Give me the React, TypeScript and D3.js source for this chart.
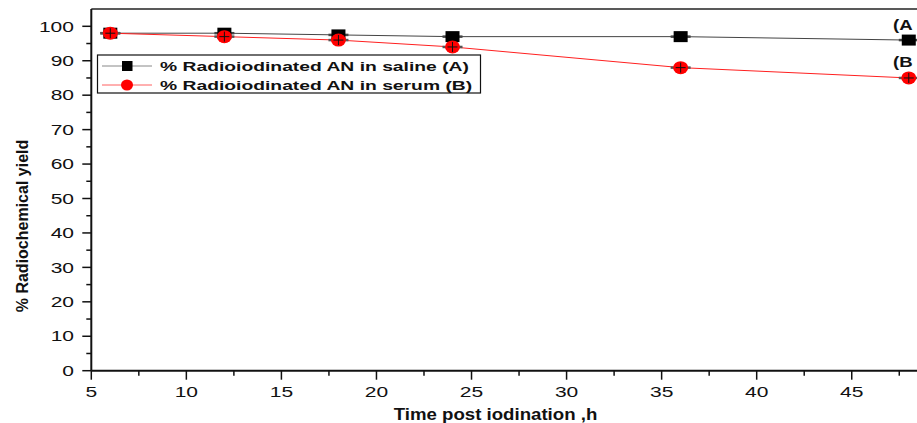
import React from "react";
import * as d3 from "d3";

const times = [6, 12, 18, 24, 36, 48];
const saline = [98, 98, 97.5, 97, 97, 96];
const serum = [98, 97, 96, 94, 88, 85];
const seriesNames = ["% Radioiodinated AN in saline (A)", "% Radioiodinated AN in serum (B)"];
const endLabels = ["(A", "(B"];
const xTicks = [5, 10, 15, 20, 25, 30, 35, 40, 45];
const yTicks = [0, 10, 20, 30, 40, 50, 60, 70, 80, 90, 100];

function SText(props: { x: number; y: number; sx: number; size: number; anchor?: string; bold?: boolean; dy?: string; children: React.ReactNode }) {
  return (
    <text
      transform={`translate(${props.x},${props.y}) scale(${props.sx},1)`}
      textAnchor={props.anchor || "start"}
      fontSize={props.size}
      fontWeight={props.bold ? "bold" : "normal"}
      dy={props.dy}
      fill="#111"
    >
      {props.children}
    </text>
  );
}

export default function App() {
  const W = 917, H = 423;
  const x = d3.scaleLinear().domain([5, 50]).range([91.3, 946.8]);
  const y = d3.scaleLinear().domain([0, 100]).range([370.7, 26.3]);
  const font = "'Liberation Sans', Arial, sans-serif";
  const line = d3.line<number>().x((_, i) => x(times[i])).y((v) => y(v));
  const xMinor = d3.range(5, 50.01, 2.5).filter((v) => !xTicks.includes(v));
  const yMinor = d3.range(5, 105, 10);
  const top = y(105);
  const tsx = 1.45;
  return (
    <svg width={W} height={H} style={{ position: "absolute", left: 0, top: 0 }} fontFamily={font}>
      <rect x={0} y={0} width={W} height={H} fill="#fff" />
      {/* frame */}
      <line x1={x(5)} x2={x(50)} y1={top} y2={top} stroke="#222" strokeWidth={1.5} />
      <line x1={x(5)} x2={x(5)} y1={top} y2={y(0)} stroke="#111" strokeWidth={2} />
      <line x1={x(5)} x2={x(50)} y1={y(0)} y2={y(0)} stroke="#111" strokeWidth={2} />
      {/* y ticks */}
      {yTicks.map((t) => (
        <g key={"y" + t}>
          <line x1={x(5) - 9} x2={x(5)} y1={y(t)} y2={y(t)} stroke="#111" strokeWidth={1.5} />
          <SText x={74} y={y(t)} sx={tsx} size={14.5} anchor="end" dy="0.36em">{t}</SText>
        </g>
      ))}
      {yMinor.map((t) => (
        <line key={"ym" + t} x1={x(5) - 5} x2={x(5)} y1={y(t)} y2={y(t)} stroke="#111" strokeWidth={1.5} />
      ))}
      {/* x ticks */}
      {xTicks.map((t) => (
        <g key={"x" + t}>
          <line x1={x(t)} x2={x(t)} y1={y(0)} y2={y(0) + 9} stroke="#111" strokeWidth={1.5} />
          <SText x={x(t)} y={397} sx={tsx} size={14.5} anchor="middle">{t}</SText>
        </g>
      ))}
      {xMinor.map((t) => (
        <line key={"xm" + t} x1={x(t)} x2={x(t)} y1={y(0)} y2={y(0) + 5} stroke="#111" strokeWidth={1.5} />
      ))}
      {/* axis titles */}
      <SText x={495.5} y={420} sx={1.13} size={16.5} anchor="middle" bold>Time post iodination ,h</SText>
      <text transform={`translate(27.5,${226}) rotate(-90)`} textAnchor="middle" fontSize={16} fontWeight="bold" fill="#111">% Radiochemical yield</text>
      {/* lines */}
      <path d={line(saline) || ""} fill="none" stroke="#444" strokeWidth={1} />
      <path d={line(serum) || ""} fill="none" stroke="#ff2020" strokeWidth={1} />
      {/* markers */}
      {times.map((t, i) => (
        <g key={"s" + t}>
          <line x1={x(t) - 10} x2={x(t) + 10} y1={y(saline[i])} y2={y(saline[i])} stroke="#444" strokeWidth={2.5} />
          <rect x={x(t) - 7} y={y(saline[i]) - 5.5} width={14} height={11} fill="#000" />
        </g>
      ))}
      {times.map((t, i) => (
        <g key={"r" + t}>
          <line x1={x(t) - 10} x2={x(t) + 10} y1={y(serum[i])} y2={y(serum[i])} stroke="#555" strokeWidth={2.5} />
          <ellipse cx={x(t)} cy={y(serum[i])} rx={7.5} ry={6.5} fill="#ff0000" />
          <line x1={x(t) - 5} x2={x(t) + 5} y1={y(serum[i])} y2={y(serum[i])} stroke="#111" strokeWidth={1} />
          <line x1={x(t)} x2={x(t)} y1={y(serum[i]) - 5} y2={y(serum[i]) + 5} stroke="#111" strokeWidth={1} />
        </g>
      ))}
      {/* end labels */}
      <SText x={893} y={30} sx={1.2} size={15.5} bold>{endLabels[0]}</SText>
      <SText x={893} y={67} sx={1.2} size={15.5} bold>{endLabels[1]}</SText>
      {/* legend */}
      <rect x={97.5} y={55} width={383} height={38} fill="#fff" stroke="#111" strokeWidth={1.2} />
      <line x1={102} x2={152} y1={66} y2={66} stroke="#888" strokeWidth={1} />
      <rect x={122} y={61} width={10.5} height={10} fill="#000" />
      <SText x={160} y={71} sx={1.43} size={13.5} bold>{seriesNames[0]}</SText>
      <line x1={102} x2={152} y1={85} y2={85} stroke="#ff6060" strokeWidth={1} />
      <ellipse cx={127} cy={85} rx={6} ry={5.5} fill="#ff0000" />
      <SText x={160} y={90} sx={1.43} size={13.5} bold>{seriesNames[1]}</SText>
    </svg>
  );
}
